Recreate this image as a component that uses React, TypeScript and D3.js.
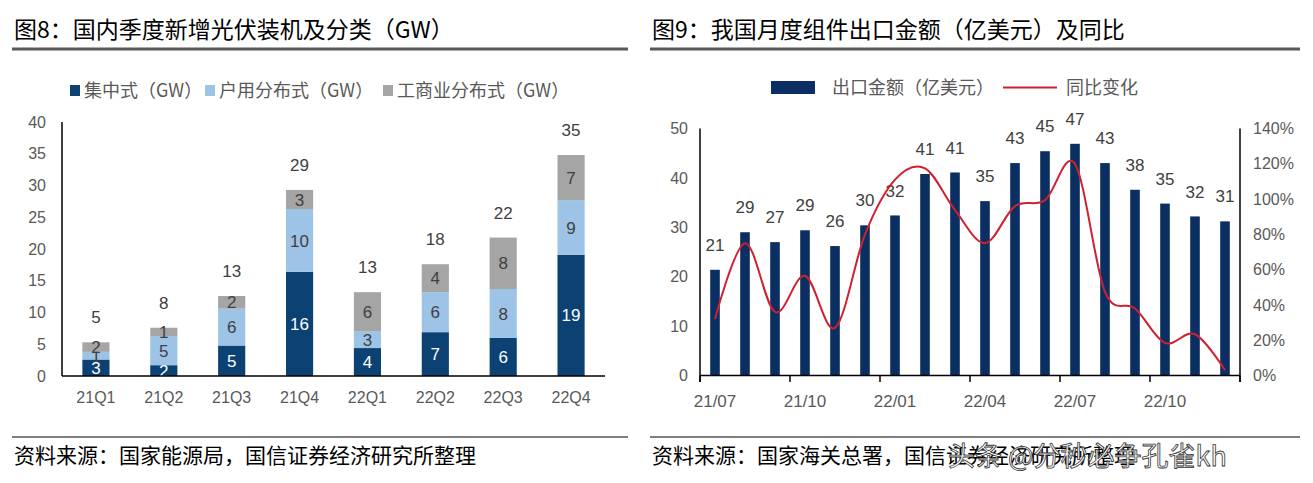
import React from 'react';
import * as d3 from 'd3';

// ---- Left chart data (GW) ----
const quarters = ['21Q1', '21Q2', '21Q3', '21Q4', '22Q1', '22Q2', '22Q3', '22Q4'];
const centralized = [2.6, 1.7, 4.8, 16.4, 4.4, 6.9, 6.0, 19.1];
const residential = [1.2, 4.6, 5.8, 9.9, 2.6, 6.3, 7.7, 8.6];
const commercial = [1.5, 1.3, 2.0, 3.0, 6.2, 4.4, 8.1, 7.1];
const leftSeriesNames = ['集中式（GW）', '户用分布式（GW）', '工商业分布式（GW）'];
const leftTicks = [0, 5, 10, 15, 20, 25, 30, 35, 40];

// ---- Right chart data ----
const months = ['21/07', '21/08', '21/09', '21/10', '21/11', '21/12', '22/01', '22/02', '22/03', '22/04', '22/05', '22/06', '22/07', '22/08', '22/09', '22/10', '22/11', '22/12'];
const exportValue = [21.4, 29.0, 27.0, 29.4, 26.2, 30.4, 32.4, 40.8, 41.1, 35.3, 43.0, 45.4, 46.9, 43.0, 37.6, 34.8, 32.2, 31.2];
const yoy = [0.32, 0.75, 0.36, 0.565, 0.27, 0.80, 1.11, 1.174, 0.938, 0.75, 0.96, 0.994, 1.199, 0.474, 0.38, 0.185, 0.234, 0.03];
const rightLeftTicks = [0, 10, 20, 30, 40, 50];
const rightRightTicks = [0, 0.2, 0.4, 0.6, 0.8, 1.0, 1.2, 1.4];
const rightSeriesNames = ['出口金额（亿美元）', '同比变化'];

const CJK = '"Noto Sans CJK SC", "Liberation Sans", sans-serif';
const NUM = '"Liberation Sans", Arial, sans-serif';

const C_DARK = '#0c4173';
const C_LIGHT = '#9dc3e6';
const C_GRAY = '#a5a5a5';
const C_NAVY = '#0b2f62';
const C_RED = '#d0202e';
const TXT = '#404040';
const AX = '#595959';

function LeftChart() {
  const x = d3.scaleBand<string>().domain(quarters).range([62, 605]).paddingInner(0.6).paddingOuter(0.3);
  const y = d3.scaleLinear().domain([0, 40]).range([376, 122]);
  const rows = quarters.map((q, i) => ({ q, c: centralized[i], r: residential[i], m: commercial[i] }));
  const stack = d3.stack<any>().keys(['c', 'r', 'm'])(rows);
  const colors = [C_DARK, C_LIGHT, C_GRAY];
  const labelColors = ['#ffffff', TXT, TXT];
  const legendX = [70, 205, 383];
  return (
    <g>
      <text x={14} y={38} fontFamily={CJK} fontSize={23} fill="#000">图8：国内季度新增光伏装机及分类（GW）</text>
      <line x1={12} x2={628} y1={49} y2={49} stroke="#595959" strokeWidth={3} />
      {leftSeriesNames.map((n, i) => (
        <g key={n}>
          <rect x={legendX[i]} y={85} width={10} height={11} fill={colors[i]} />
          <text x={legendX[i] + 14} y={97} fontFamily={CJK} fontSize={18} fill={AX}>{n}</text>
        </g>
      ))}
      {leftTicks.map(t => (
        <text key={t} x={46} y={y(t)} dy="0.35em" textAnchor="end" fontFamily={NUM} fontSize={16} fill={AX}>{t}</text>
      ))}
      {stack.map((s, si) => (
        <g key={si}>
          {s.map((d, i) => (
            <rect key={i} x={x(quarters[i])} y={y(d[1])} width={x.bandwidth()} height={y(d[0]) - y(d[1])} fill={colors[si]} />
          ))}
          {s.map((d, i) => (
            <text key={'t' + i} x={(x(quarters[i]) as number) + x.bandwidth() / 2} y={(y(d[0]) + y(d[1])) / 2} dy="0.36em" textAnchor="middle" fontFamily={NUM} fontSize={17} fill={labelColors[si]}>
              {Math.round(d[1] - d[0])}
            </text>
          ))}
        </g>
      ))}
      {rows.map((r, i) => {
        const tot = r.c + r.r + r.m;
        return (
          <text key={i} x={(x(r.q) as number) + x.bandwidth() / 2} y={y(tot) - 25} dy="0.36em" textAnchor="middle" fontFamily={NUM} fontSize={17} fill={TXT}>
            {Math.round(tot)}
          </text>
        );
      })}
      <line x1={62} x2={62} y1={122} y2={376} stroke="#000" strokeWidth={1.5} />
      <line x1={62} x2={605} y1={376} y2={376} stroke="#000" strokeWidth={1.5} />
      {quarters.map(q => (
        <text key={q} x={(x(q) as number) + x.bandwidth() / 2} y={403} textAnchor="middle" fontFamily={NUM} fontSize={16} fill={AX}>{q}</text>
      ))}
      <line x1={12} x2={628} y1={437} y2={437} stroke="#000" strokeWidth={1.2} />
      <text x={14} y={463} fontFamily={CJK} fontSize={21} fill="#000">资料来源：国家能源局，国信证券经济研究所整理</text>
    </g>
  );
}

function RightChart() {
  const x = d3.scaleBand<string>().domain(months).range([700, 1240]).paddingInner(0.68).paddingOuter(0.34);
  const yL = d3.scaleLinear().domain([0, 50]).range([375.5, 128.5]);
  const yR = d3.scaleLinear().domain([0, 1.4]).range([375.5, 128.5]);
  const cx = (m: string) => (x(m) as number) + x.bandwidth() / 2;
  const line = d3.line<number>().x((_, i) => cx(months[i])).y(v => yR(v)).curve(d3.curveCatmullRom.alpha(0));
  const step = x.step();
  const tickIdx = [0, 3, 6, 9, 12, 15, 18];
  return (
    <g>
      <text x={652} y={38} fontFamily={CJK} fontSize={23} fill="#000">图9：我国月度组件出口金额（亿美元）及同比</text>
      <line x1={650} x2={1300} y1={49} y2={49} stroke="#595959" strokeWidth={3} />
      <rect x={771} y={81} width={44} height={13} fill={C_NAVY} />
      <text x={832} y={94} fontFamily={CJK} fontSize={18} fill={AX}>{rightSeriesNames[0]}</text>
      <line x1={1003} x2={1057} y1={87.5} y2={87.5} stroke={C_RED} strokeWidth={2} />
      <text x={1066} y={94} fontFamily={CJK} fontSize={18} fill={AX}>{rightSeriesNames[1]}</text>
      {rightLeftTicks.map(t => (
        <text key={t} x={688} y={yL(t)} dy="0.35em" textAnchor="end" fontFamily={NUM} fontSize={16} fill={AX}>{t}</text>
      ))}
      {rightRightTicks.map(t => (
        <text key={t} x={1253} y={yR(t)} dy="0.35em" textAnchor="start" fontFamily={NUM} fontSize={16} fill={AX}>{d3.format('.0%')(t)}</text>
      ))}
      {exportValue.map((v, i) => (
        <g key={i}>
          <rect x={x(months[i])} y={yL(v)} width={x.bandwidth()} height={yL(0) - yL(v)} fill={C_NAVY} />
          <text x={cx(months[i])} y={yL(v) - 25} dy="0.36em" textAnchor="middle" fontFamily={NUM} fontSize={17} fill={TXT}>{Math.round(v)}</text>
        </g>
      ))}
      <path d={line(yoy) || ''} fill="none" stroke={C_RED} strokeWidth={2} />
      <line x1={700} x2={700} y1={128.5} y2={382} stroke="#000" strokeWidth={1.5} />
      <line x1={1240} x2={1240} y1={128.5} y2={382} stroke="#000" strokeWidth={1.5} />
      <line x1={700} x2={1240} y1={375.5} y2={375.5} stroke="#000" strokeWidth={1.5} />
      {tickIdx.map(i => (
        <line key={i} x1={700 + i * step} x2={700 + i * step} y1={375.5} y2={382} stroke="#000" strokeWidth={1.5} />
      ))}
      {tickIdx.filter(i => i < months.length).map(i => (
        <text key={'l' + i} x={cx(months[i])} y={407} textAnchor="middle" fontFamily={NUM} fontSize={17} fill={AX}>{months[i]}</text>
      ))}
      <line x1={650} x2={1300} y1={437} y2={437} stroke="#000" strokeWidth={1.2} />
      <text x={652} y={463} fontFamily={CJK} fontSize={21} fill="#000">资料来源：国家海关总署，国信证券经济研究所整理</text>
      <text x={948} y={466} fontFamily={CJK} fontSize={27} fill="#ffffff" stroke="#333" strokeWidth={0.8}>头条 @分秒必争孔雀kh</text>
    </g>
  );
}

export default function App() {
  return (
    <svg width={1313} height={483} style={{ position: 'absolute', left: 0, top: 0, background: '#fff' }}>
      <rect width={1313} height={483} fill="#fff" />
      <LeftChart />
      <RightChart />
    </svg>
  );
}
